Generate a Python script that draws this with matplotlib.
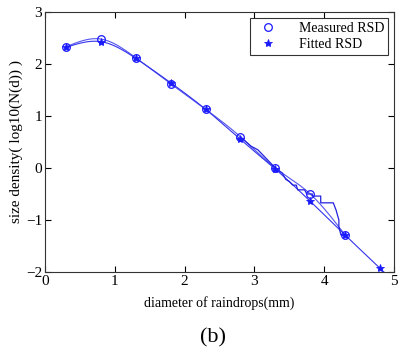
import numpy as np
import matplotlib
matplotlib.use("Agg")
import matplotlib.pyplot as plt

plt.rcParams['font.family'] = ['Liberation Serif', 'DejaVu Serif']

# Data
measured_x = [0.3, 0.8, 1.3, 1.8, 2.3, 2.8, 3.3, 3.8, 4.3]
measured_y = [2.33, 2.48, 2.12, 1.62, 1.13, 0.60, 0.00, -0.50, -1.29]
fitted_x = [0.3, 0.8, 1.3, 1.8, 2.3, 2.8, 3.3, 3.8, 4.3, 4.8]
fitted_y = [2.32, 2.43, 2.11, 1.64, 1.13, 0.55, -0.02, -0.64, -1.29, -1.93]
fine_x = [2.8, 2.95, 3.05, 3.1, 3.3, 3.4, 3.45, 3.5, 3.55, 3.6, 3.62, 3.72, 3.75,
          3.83, 3.83, 3.95, 3.95, 4.13, 4.17, 4.21, 4.21, 4.24, 4.3]
fine_y = [0.60, 0.42, 0.35, 0.28, 0.00, -0.10, -0.22, -0.26, -0.33, -0.33, -0.42, -0.42, -0.50,
          -0.50, -0.54, -0.54, -0.67, -0.67, -0.81, -1.00, -1.13, -1.29, -1.29]
xticks = [0, 1, 2, 3, 4, 5]
yticks = [-2, -1, 0, 1, 2, 3]


def natural_spline(x, y, xs):
    x = np.asarray(x, float)
    y = np.asarray(y, float)
    n = len(x)
    h = np.diff(x)
    A = np.zeros((n, n))
    b = np.zeros(n)
    A[0, 0] = 1
    A[-1, -1] = 1
    for i in range(1, n - 1):
        A[i, i - 1] = h[i - 1]
        A[i, i] = 2 * (h[i - 1] + h[i])
        A[i, i + 1] = h[i]
        b[i] = 3 * ((y[i + 1] - y[i]) / h[i] - (y[i] - y[i - 1]) / h[i - 1])
    c = np.linalg.solve(A, b)
    bb = (np.diff(y) / h) - h * (2 * c[:-1] + c[1:]) / 3
    d = np.diff(c) / (3 * h)
    xs = np.asarray(xs, float)
    out = np.empty_like(xs)
    for k, xv in enumerate(xs):
        if xv > x[-1]:
            out[k] = y[-1] + (bb[-1] + 2 * c[-2] * h[-1] + 3 * d[-1] * h[-1] ** 2) * (xv - x[-1])
            continue
        i = min(max(np.searchsorted(x, xv) - 1, 0), n - 2)
        t = xv - x[i]
        out[k] = y[i] + bb[i] * t + c[i] * t ** 2 + d[i] * t ** 3
    return out


fig = plt.figure(figsize=(3.98, 3.53), dpi=100)
ax = fig.add_axes([0.113, 0.2295, 0.877, 0.7365])

blue = '#1a1aff'
xm = np.linspace(measured_x[0], measured_x[-1], 300)
ax.plot(xm, natural_spline(measured_x, measured_y, xm), color='#5555ee', lw=0.8)
xf = np.linspace(fitted_x[0], 5.0, 300)
ax.plot(xf, natural_spline(fitted_x, fitted_y, xf), color='#3333ee', lw=0.8)
ax.plot(fine_x, fine_y, color='#2222dd', lw=0.9)

ax.plot(measured_x, measured_y, 'o', mfc='none', mec=blue, ms=5.5, mew=0.9, ls='none', label='Measured RSD')
ax.plot(fitted_x, fitted_y, '*', color=blue, ms=6, mew=0.6, ls='none', label='Fitted RSD')

ax.set_xlim(0, 5)
ax.set_ylim(-2, 3)
ax.set_xticks(xticks)
ax.set_yticks(yticks)
ax.tick_params(direction='in', top=True, right=True, length=4, width=0.8, labelsize=11, pad=2)
for s in ax.spines.values():
    s.set_linewidth(0.8)
    s.set_color('#333333')

ax.set_xlabel('diameter of raindrops(mm)', fontsize=10, labelpad=6)
ax.set_ylabel('size density( log10(N(d)) )', fontsize=11, labelpad=2)

leg = ax.legend(loc='upper right', fontsize=10, frameon=True, fancybox=False,
                edgecolor='black', borderpad=0.3, handletextpad=1.2, labelspacing=0.2,
                borderaxespad=0.4)
leg.get_frame().set_linewidth(0.8)

fig.text(0.535, 0.043, '(b)', fontsize=16, ha='center', va='center')

fig.savefig('out.png', dpi=100)
